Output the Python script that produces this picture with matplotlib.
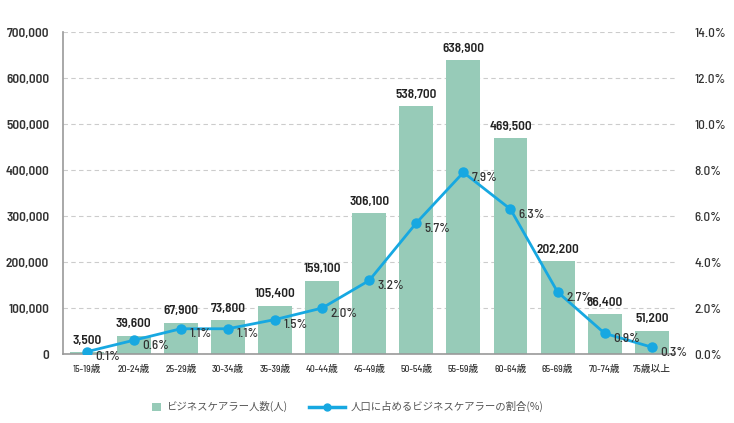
import matplotlib
matplotlib.use("Agg")
import matplotlib.pyplot as plt
from matplotlib.ticker import FuncFormatter, MultipleLocator
from matplotlib.lines import Line2D
from matplotlib.patches import Patch

plt.rcParams['font.family'] = ['Noto Sans CJK JP', 'DejaVu Sans']

categories = ["15-19歳", "20-24歳", "25-29歳", "30-34歳", "35-39歳", "40-44歳", "45-49歳",
              "50-54歳", "55-59歳", "60-64歳", "65-69歳", "70-74歳", "75歳以上"]
carers = [3500, 39600, 67900, 73800, 105400, 159100, 306100,
          538700, 638900, 469500, 202200, 86400, 51200]
share = [0.1, 0.6, 1.1, 1.1, 1.5, 2.0, 3.2, 5.7, 7.9, 6.3, 2.7, 0.9, 0.3]

bar_color = "#97CBB8"
line_color = "#17A8E1"
text_color = "#222222"
NUM = ['Barlow Semi Condensed', 'Noto Sans CJK JP', 'DejaVu Sans']

fig = plt.figure(figsize=(7.34, 4.23), dpi=100)
ax = fig.add_axes([0.086, 0.163, 0.834, 0.761])
x = list(range(len(categories)))

ax.bar(x, carers, width=0.72, color=bar_color, zorder=2)
ax.set_ylim(0, 700000)
ax.set_xlim(-0.5, len(categories) - 0.5)
ax.yaxis.set_major_locator(MultipleLocator(100000))
ax.yaxis.set_major_formatter(FuncFormatter(lambda v, p: f"{int(v):,}"))
ax.grid(axis='y', linestyle=(0, (4, 3)), color="#CCCCCC", linewidth=0.8, zorder=0)
ax.set_axisbelow(True)
for s in ['top', 'right']:
    ax.spines[s].set_visible(False)
ax.spines['left'].set_color("#999999")
ax.spines['bottom'].set_color("#999999")
ax.spines['left'].set_linewidth(1.2)
ax.spines['bottom'].set_linewidth(1.2)
ax.tick_params(axis='y', length=0, pad=10, labelsize=9.5, labelcolor="#333333")
ax.tick_params(axis='x', length=0, pad=8, labelsize=7, labelcolor="#333333")
ax.set_xticks(x)
ax.set_xticklabels(categories)
for lab in ax.get_yticklabels():
    lab.set_fontweight(600)
    lab.set_family(NUM)
for lab in ax.get_xticklabels():
    lab.set_family(NUM)
    lab.set_fontweight(500)

for xi, v in zip(x, carers):
    ax.annotate(f"{v:,}", (xi, v), xytext=(0, 4), textcoords='offset points',
                ha='center', va='bottom', fontsize=9.5, fontweight=600,
                color=text_color, family=NUM)

ax2 = ax.twinx()
ax2.set_position(ax.get_position())
ax2.set_ylim(0, 14)
ax2.yaxis.set_major_locator(MultipleLocator(2))
ax2.yaxis.set_major_formatter(FuncFormatter(lambda v, p: f"{v:.1f}%"))
for s in ['top', 'right', 'left', 'bottom']:
    ax2.spines[s].set_visible(False)
ax2.tick_params(axis='y', length=0, pad=14, labelsize=9.5, labelcolor="#333333")
for lab in ax2.get_yticklabels():
    lab.set_family(NUM)
    lab.set_fontweight(500)
ax2.plot(x, share, color=line_color, linewidth=2, marker='o', markersize=6.5, zorder=3)
for xi, v in zip(x, share):
    ax2.annotate(f"{v:.1f}%", (xi, v), xytext=(6, -4), textcoords='offset points',
                 ha='left', va='center', fontsize=9.5, color="#333333", family=NUM,
                 fontweight=500)

handles = [Patch(facecolor=bar_color, edgecolor='none'),
           Line2D([0], [0], color=line_color, linewidth=2.5, marker='o', markersize=5)]
labels = ["ビジネスケアラー人数(人)", "人口に占めるビジネスケアラーの割合(%)"]
leg = fig.legend(handles, labels, loc='center', bbox_to_anchor=(0.455, 0.038), ncol=2,
                 frameon=False, fontsize=7.5, handlelength=3.5, columnspacing=2.1,
                 handletextpad=0.5)
for t in leg.get_texts():
    t.set_color("#555555")
p = leg.legend_handles[0]
w, h = p.get_width(), p.get_height()
p.set_x(p.get_x() + w - 6)
p.set_y(p.get_y() + (h - 6) / 2)
p.set_width(6)
p.set_height(6)

fig.savefig("out.png", dpi=100)
